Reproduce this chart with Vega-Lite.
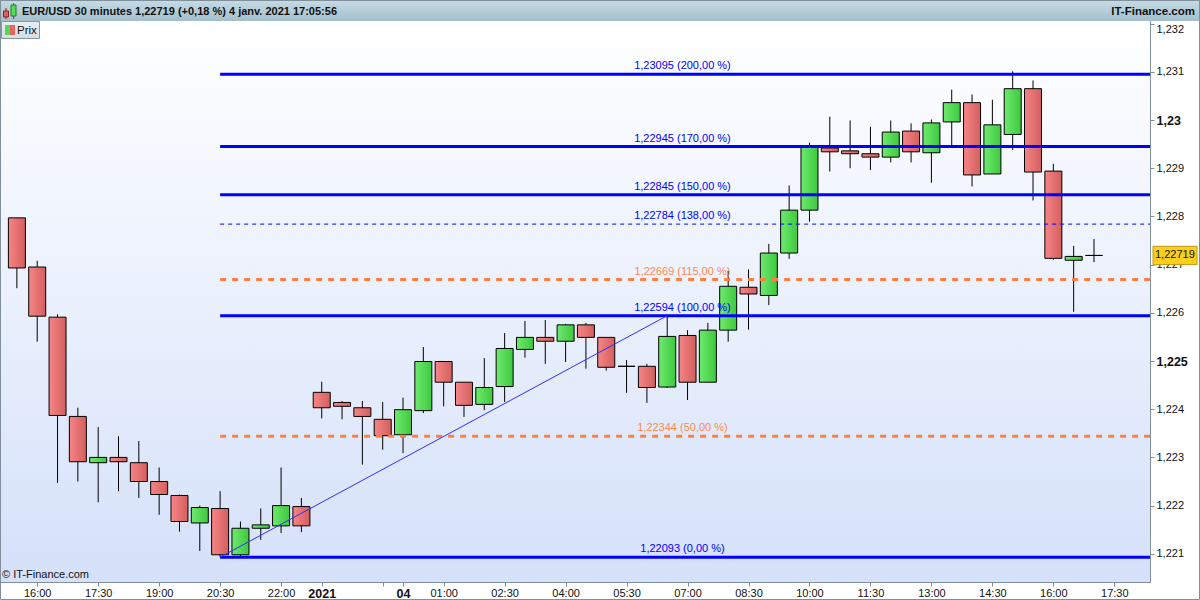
{
  "$schema": "https://vega.github.io/schema/vega-lite/v6.json",
  "width": 1150,
  "height": 561,
  "autosize": {"type": "none"},
  "padding": {"left": 0, "top": 21, "right": 50, "bottom": 18},
  "background": "#ffffff",
  "config": {
    "locale": {"number": {"decimal": ",", "thousands": " ", "grouping": [3], "currency": ["", " €"]}},
    "view": {"stroke": "#7f8f9b"},
    "font": "Liberation Sans"
  },
  "datasets": {
    "candles": [
      {"t": "2020-12-31 15:30", "slot": 0, "open": 1.22797, "high": 1.22797, "low": 1.22651, "close": 1.22693},
      {"t": "2020-12-31 16:00", "slot": 1, "open": 1.22695, "high": 1.22708, "low": 1.2254, "close": 1.22593},
      {"t": "2020-12-31 16:30", "slot": 2, "open": 1.22591, "high": 1.22597, "low": 1.22247, "close": 1.22387},
      {"t": "2020-12-31 17:00", "slot": 3, "open": 1.22385, "high": 1.22403, "low": 1.2225, "close": 1.22291},
      {"t": "2020-12-31 17:30", "slot": 4, "open": 1.22289, "high": 1.22363, "low": 1.22207, "close": 1.223},
      {"t": "2020-12-31 18:00", "slot": 5, "open": 1.223, "high": 1.22344, "low": 1.2223, "close": 1.22291},
      {"t": "2020-12-31 18:30", "slot": 6, "open": 1.22289, "high": 1.22334, "low": 1.22216, "close": 1.2225},
      {"t": "2020-12-31 19:00", "slot": 7, "open": 1.2225, "high": 1.22279, "low": 1.22181, "close": 1.22223},
      {"t": "2020-12-31 19:30", "slot": 8, "open": 1.22221, "high": 1.22223, "low": 1.22146, "close": 1.22167},
      {"t": "2020-12-31 20:00", "slot": 9, "open": 1.22164, "high": 1.222, "low": 1.22106, "close": 1.22196},
      {"t": "2020-12-31 20:30", "slot": 10, "open": 1.22194, "high": 1.2223, "low": 1.22093, "close": 1.22098},
      {"t": "2020-12-31 21:00", "slot": 11, "open": 1.22098, "high": 1.22167, "low": 1.22094, "close": 1.22153},
      {"t": "2020-12-31 21:30", "slot": 12, "open": 1.22153, "high": 1.22194, "low": 1.22129, "close": 1.2216},
      {"t": "2020-12-31 22:00", "slot": 13, "open": 1.22158, "high": 1.22279, "low": 1.22143, "close": 1.222},
      {"t": "2020-12-31 22:30", "slot": 14, "open": 1.22198, "high": 1.22216, "low": 1.22145, "close": 1.22158},
      {"t": "2021-01-03 22:00", "slot": 15, "open": 1.22435, "high": 1.22457, "low": 1.22381, "close": 1.22403},
      {"t": "2021-01-03 22:30", "slot": 16, "open": 1.22414, "high": 1.22417, "low": 1.22379, "close": 1.22406},
      {"t": "2021-01-03 23:00", "slot": 17, "open": 1.22403, "high": 1.22417, "low": 1.22285, "close": 1.22385},
      {"t": "2021-01-03 23:30", "slot": 18, "open": 1.22379, "high": 1.22415, "low": 1.22316, "close": 1.22345},
      {"t": "2021-01-04 00:00", "slot": 19, "open": 1.22347, "high": 1.22424, "low": 1.22309, "close": 1.22399},
      {"t": "2021-01-04 00:30", "slot": 20, "open": 1.22397, "high": 1.22529, "low": 1.22392, "close": 1.22499},
      {"t": "2021-01-04 01:00", "slot": 21, "open": 1.22499, "high": 1.225, "low": 1.22406, "close": 1.22456},
      {"t": "2021-01-04 01:30", "slot": 22, "open": 1.22456, "high": 1.22456, "low": 1.22384, "close": 1.22408},
      {"t": "2021-01-04 02:00", "slot": 23, "open": 1.2241, "high": 1.22506, "low": 1.22398, "close": 1.22445},
      {"t": "2021-01-04 02:30", "slot": 24, "open": 1.22447, "high": 1.22558, "low": 1.22415, "close": 1.22526},
      {"t": "2021-01-04 03:00", "slot": 25, "open": 1.22524, "high": 1.22583, "low": 1.22507, "close": 1.22549},
      {"t": "2021-01-04 03:30", "slot": 26, "open": 1.22549, "high": 1.22585, "low": 1.22494, "close": 1.22541},
      {"t": "2021-01-04 04:00", "slot": 27, "open": 1.22541, "high": 1.22577, "low": 1.22498, "close": 1.22575},
      {"t": "2021-01-04 04:30", "slot": 28, "open": 1.22575, "high": 1.22579, "low": 1.22484, "close": 1.22549},
      {"t": "2021-01-04 05:00", "slot": 29, "open": 1.22549, "high": 1.22549, "low": 1.2248, "close": 1.22487},
      {"t": "2021-01-04 05:30", "slot": 30, "open": 1.22489, "high": 1.22502, "low": 1.22434, "close": 1.22489},
      {"t": "2021-01-04 06:00", "slot": 31, "open": 1.22489, "high": 1.22494, "low": 1.22413, "close": 1.22445},
      {"t": "2021-01-04 06:30", "slot": 32, "open": 1.22446, "high": 1.22594, "low": 1.22444, "close": 1.22551},
      {"t": "2021-01-04 07:00", "slot": 33, "open": 1.22553, "high": 1.22564, "low": 1.22419, "close": 1.22456},
      {"t": "2021-01-04 07:30", "slot": 34, "open": 1.22456, "high": 1.22579, "low": 1.22456, "close": 1.22564},
      {"t": "2021-01-04 08:00", "slot": 35, "open": 1.22564, "high": 1.22687, "low": 1.2254, "close": 1.22655},
      {"t": "2021-01-04 08:30", "slot": 36, "open": 1.22653, "high": 1.2269, "low": 1.22565, "close": 1.22639},
      {"t": "2021-01-04 09:00", "slot": 37, "open": 1.22636, "high": 1.22743, "low": 1.22616, "close": 1.22724},
      {"t": "2021-01-04 09:30", "slot": 38, "open": 1.22724, "high": 1.22864, "low": 1.22712, "close": 1.22813},
      {"t": "2021-01-04 10:00", "slot": 39, "open": 1.22813, "high": 1.22953, "low": 1.22789, "close": 1.22943},
      {"t": "2021-01-04 10:30", "slot": 40, "open": 1.22942, "high": 1.23007, "low": 1.22893, "close": 1.22934},
      {"t": "2021-01-04 11:00", "slot": 41, "open": 1.22936, "high": 1.22999, "low": 1.229, "close": 1.2293},
      {"t": "2021-01-04 11:30", "slot": 42, "open": 1.2293, "high": 1.22986, "low": 1.22896, "close": 1.22923},
      {"t": "2021-01-04 12:00", "slot": 43, "open": 1.22923, "high": 1.22999, "low": 1.22912, "close": 1.22975},
      {"t": "2021-01-04 12:30", "slot": 44, "open": 1.22977, "high": 1.22993, "low": 1.22912, "close": 1.22934},
      {"t": "2021-01-04 13:00", "slot": 45, "open": 1.22932, "high": 1.23001, "low": 1.2287, "close": 1.22994},
      {"t": "2021-01-04 13:30", "slot": 46, "open": 1.22996, "high": 1.23063, "low": 1.22947, "close": 1.23036},
      {"t": "2021-01-04 14:00", "slot": 47, "open": 1.23036, "high": 1.23053, "low": 1.22862, "close": 1.22886},
      {"t": "2021-01-04 14:30", "slot": 48, "open": 1.22888, "high": 1.23042, "low": 1.22888, "close": 1.2299},
      {"t": "2021-01-04 15:00", "slot": 49, "open": 1.2297, "high": 1.23101, "low": 1.22938, "close": 1.23065},
      {"t": "2021-01-04 15:30", "slot": 50, "open": 1.23065, "high": 1.23082, "low": 1.22833, "close": 1.22892},
      {"t": "2021-01-04 16:00", "slot": 51, "open": 1.22894, "high": 1.22909, "low": 1.2271, "close": 1.22713},
      {"t": "2021-01-04 16:30", "slot": 52, "open": 1.22709, "high": 1.22739, "low": 1.22602, "close": 1.22717},
      {"t": "2021-01-04 17:00", "slot": 53, "open": 1.22719, "high": 1.22753, "low": 1.22705, "close": 1.22719}
    ],
    "fib": [
      {"label": "1,23095 (200,00 %)", "price": 1.23095, "kind": "ext"},
      {"label": "1,22945 (170,00 %)", "price": 1.22945, "kind": "ext"},
      {"label": "1,22845 (150,00 %)", "price": 1.22845, "kind": "ext"},
      {"label": "1,22784 (138,00 %)", "price": 1.22784, "kind": "minor"},
      {"label": "1,22669 (115,00 %)", "price": 1.22669, "kind": "mid"},
      {"label": "1,22594 (100,00 %)", "price": 1.22594, "kind": "ext"},
      {"label": "1,22344 (50,00 %)", "price": 1.22344, "kind": "mid"},
      {"label": "1,22093 (0,00 %)", "price": 1.22093, "kind": "ext"}
    ],
    "trend": [
      {"slot": 10, "price": 1.22093},
      {"slot": 32, "price": 1.22594}
    ],
    "last": [
      {"price": 1.22719}
    ]
  },
  "layer": [
    {
      "data": {"values": [{}]},
      "mark": {"type": "rect", "fill": {"gradient": "linear", "x1": 0, "y1": 0, "x2": 0, "y2": 1, "stops": [{"offset": 0, "color": "#ffffff"}, {"offset": 1, "color": "#d5e1fa"}]}},
      "encoding": {"x": {"value": 0}, "x2": {"value": "width"}, "y": {"value": 0}, "y2": {"value": "height"}}
    },
    {
      "data": {"name": "candles"},
      "mark": {"type": "rule", "color": "#000000", "strokeWidth": 1},
      "encoding": {
        "x": {
          "field": "slot", "type": "quantitative",
          "scale": {"domain": [-0.585, 55.51], "nice": false, "zero": false},
          "axis": {
            "orient": "bottom", "title": null, "grid": false,
            "values": [1, 4, 7, 10, 13, 15, 18, 19, 21, 24, 27, 30, 33, 36, 39, 42, 45, 48, 51, 54],
            "labelExpr": "['16:00','17:30','19:00','20:30','22:00','2021','','04','01:00','02:30','04:00','05:30','07:00','08:30','10:00','11:30','13:00','14:30','16:00','17:30'][indexof([1,4,7,10,13,15,18,19,21,24,27,30,33,36,39,42,45,48,51,54], datum.value)]",
            "labelFontWeight": {"condition": {"test": "datum.value == 15 || datum.value == 19", "value": "bold"}, "value": "normal"},
            "labelFontSize": {"condition": {"test": "datum.value == 15 || datum.value == 19", "value": 12.5}, "value": 11},
            "labelColor": "#111111", "labelFont": "Liberation Sans", "labelPadding": 1,
            "labelFlush": false, "labelOverlap": false,
            "tickSize": 4, "tickColor": "#7f8f9b", "domainColor": "#7f8f9b"
          }
        },
        "y": {
          "field": "low", "type": "quantitative",
          "scale": {"domain": [1.220415, 1.232054], "nice": false, "zero": false},
          "axis": {
            "orient": "right", "title": null, "grid": false,
            "values": [1.221, 1.222, 1.223, 1.224, 1.225, 1.226, 1.227, 1.228, 1.229, 1.23, 1.231, 1.232],
            "format": ".3~f",
            "labelFontWeight": {"condition": {"test": "datum.value == 1.23 || datum.value == 1.225", "value": "bold"}, "value": "normal"},
            "labelFontSize": {"condition": {"test": "datum.value == 1.23 || datum.value == 1.225", "value": 12.5}, "value": 11},
            "labelColor": "#111111", "labelFont": "Liberation Sans", "labelPadding": 2,
            "labelFlush": 5, "labelOverlap": false,
            "tickSize": 4, "tickColor": "#7f8f9b", "domainColor": "#7f8f9b"
          }
        },
        "y2": {"field": "high"}
      }
    },
    {
      "data": {"name": "candles"},
      "mark": {"type": "bar", "size": 17, "stroke": "#000000", "strokeWidth": 1},
      "encoding": {
        "x": {"field": "slot", "type": "quantitative", "title": null},
        "y": {"field": "open", "type": "quantitative", "title": null},
        "y2": {"field": "close"},
        "fill": {
          "condition": {"test": "datum.close < datum.open", "value": {"gradient": "linear", "x1": 0, "y1": 0, "x2": 1, "y2": 0, "stops": [{"offset": 0, "color": "#f78585"}, {"offset": 1, "color": "#d35f5f"}]}},
          "value": {"gradient": "linear", "x1": 0, "y1": 0, "x2": 1, "y2": 0, "stops": [{"offset": 0, "color": "#6eea6e"}, {"offset": 1, "color": "#3fc83f"}]}
        }
      }
    },
    {
      "data": {"name": "fib"},
      "transform": [{"filter": "datum.kind == 'ext'"}],
      "mark": {"type": "rule", "color": "#0000ff", "strokeWidth": 3},
      "encoding": {
        "x": {"datum": 10, "type": "quantitative", "title": null},
        "x2": {"value": "width"},
        "y": {"field": "price", "type": "quantitative", "title": null}
      }
    },
    {
      "data": {"name": "fib"},
      "transform": [{"filter": "datum.kind == 'minor'"}],
      "mark": {"type": "rule", "color": "#0000ff", "strokeWidth": 1, "strokeDash": [4, 4]},
      "encoding": {
        "x": {"datum": 10, "type": "quantitative", "title": null},
        "x2": {"value": "width"},
        "y": {"field": "price", "type": "quantitative", "title": null}
      }
    },
    {
      "data": {"name": "fib"},
      "transform": [{"filter": "datum.kind == 'mid'"}],
      "mark": {"type": "rule", "color": "#ff7f40", "strokeWidth": 3, "strokeDash": [6, 6]},
      "encoding": {
        "x": {"datum": 10, "type": "quantitative", "title": null},
        "x2": {"value": "width"},
        "y": {"field": "price", "type": "quantitative", "title": null}
      }
    },
    {
      "data": {"name": "fib"},
      "mark": {"type": "text", "fontSize": 11, "dy": -8, "baseline": "middle", "align": "center"},
      "encoding": {
        "x": {"datum": 32.75, "type": "quantitative", "title": null},
        "y": {"field": "price", "type": "quantitative", "title": null},
        "text": {"field": "label"},
        "color": {"field": "kind", "type": "nominal", "scale": {"domain": ["ext", "minor", "mid"], "range": ["#0000ff", "#0000ff", "#ff8a4c"]}, "legend": null}
      }
    },
    {
      "data": {"name": "trend"},
      "mark": {"type": "line", "color": "#2f2fff", "strokeWidth": 1},
      "encoding": {
        "x": {"field": "slot", "type": "quantitative", "title": null},
        "y": {"field": "price", "type": "quantitative", "title": null}
      }
    },
    {
      "data": {"name": "last"},
      "mark": {"type": "rect", "fill": "#fccf1c", "stroke": "#c29a10", "strokeWidth": 1},
      "encoding": {
        "x": {"value": 1153},
        "x2": {"value": 1197},
        "y": {"datum": 1.22738, "type": "quantitative", "title": null},
        "y2": {"datum": 1.227}
      }
    },
    {
      "data": {"name": "last"},
      "mark": {"type": "text", "align": "left", "baseline": "middle", "fontSize": 11, "color": "#111111"},
      "encoding": {
        "x": {"value": 1155},
        "y": {"field": "price", "type": "quantitative", "title": null},
        "text": {"field": "price", "type": "quantitative", "format": ".5f"}
      }
    },
    {
      "data": {"values": [{}]},
      "mark": {"type": "rect", "fill": {"gradient": "linear", "x1": 0, "y1": 0, "x2": 0, "y2": 1, "stops": [{"offset": 0, "color": "#c6dce5"}, {"offset": 1, "color": "#a3bfcc"}]}},
      "encoding": {"x": {"value": 0}, "x2": {"value": 1200}, "y": {"value": -21}, "y2": {"value": 0}}
    },
    {
      "data": {"values": [{}]},
      "mark": {"type": "rect", "fill": null, "stroke": "#7f8f9b", "strokeWidth": 1},
      "encoding": {"x": {"value": 0.5}, "x2": {"value": 1199.5}, "y": {"value": -20.5}, "y2": {"value": 578.5}}
    },
    {
      "data": {"values": [{}]},
      "mark": {"type": "rule", "color": "#8a2020", "strokeWidth": 1},
      "encoding": {"x": {"value": 6}, "y": {"value": -13}, "y2": {"value": -2}}
    },
    {
      "data": {"values": [{}]},
      "mark": {"type": "rect", "fill": "#e06060", "stroke": "#8a2020", "strokeWidth": 1},
      "encoding": {"x": {"value": 3.5}, "x2": {"value": 8.5}, "y": {"value": -10}, "y2": {"value": -4}}
    },
    {
      "data": {"values": [{}]},
      "mark": {"type": "rule", "color": "#207a20", "strokeWidth": 1},
      "encoding": {"x": {"value": 13.5}, "y": {"value": -18}, "y2": {"value": -2}}
    },
    {
      "data": {"values": [{}]},
      "mark": {"type": "rect", "fill": "#55dd55", "stroke": "#207a20", "strokeWidth": 1},
      "encoding": {"x": {"value": 11}, "x2": {"value": 16}, "y": {"value": -16}, "y2": {"value": -5}}
    },
    {
      "data": {"values": [{}]},
      "mark": {"type": "text", "text": "EUR/USD 30 minutes 1,22719 (+0,18 %) 4 janv. 2021 17:05:56", "align": "left", "baseline": "middle", "fontSize": 11, "fontWeight": "bold", "color": "#111111"},
      "encoding": {"x": {"value": 22}, "y": {"value": -9}}
    },
    {
      "data": {"values": [{}]},
      "mark": {"type": "text", "text": "IT-Finance.com", "align": "right", "baseline": "middle", "fontSize": 11.5, "fontWeight": "bold", "color": "#111111"},
      "encoding": {"x": {"value": 1195}, "y": {"value": -9}}
    },
    {
      "data": {"values": [{}]},
      "mark": {"type": "rect", "fill": {"gradient": "linear", "x1": 0, "y1": 0, "x2": 0, "y2": 1, "stops": [{"offset": 0, "color": "#e9eef1"}, {"offset": 1, "color": "#d3dde3"}]}, "stroke": "#8797a3", "strokeWidth": 1},
      "encoding": {"x": {"value": 1.5}, "x2": {"value": 39.5}, "y": {"value": 0.5}, "y2": {"value": 17.5}}
    },
    {
      "data": {"values": [{}]},
      "mark": {"type": "rect", "fill": "#55d955"},
      "encoding": {"x": {"value": 5}, "x2": {"value": 10}, "y": {"value": 4}, "y2": {"value": 14}}
    },
    {
      "data": {"values": [{}]},
      "mark": {"type": "rect", "fill": "#e86464"},
      "encoding": {"x": {"value": 10}, "x2": {"value": 15}, "y": {"value": 4}, "y2": {"value": 14}}
    },
    {
      "data": {"values": [{}]},
      "mark": {"type": "text", "text": "Prix", "align": "left", "baseline": "middle", "fontSize": 11.5, "color": "#111111"},
      "encoding": {"x": {"value": 17}, "y": {"value": 9.5}}
    },
    {
      "data": {"values": [{}]},
      "mark": {"type": "text", "text": "© IT-Finance.com", "align": "left", "baseline": "middle", "fontSize": 11, "color": "#111111"},
      "encoding": {"x": {"value": 2}, "y": {"value": 554}}
    }
  ]
}
